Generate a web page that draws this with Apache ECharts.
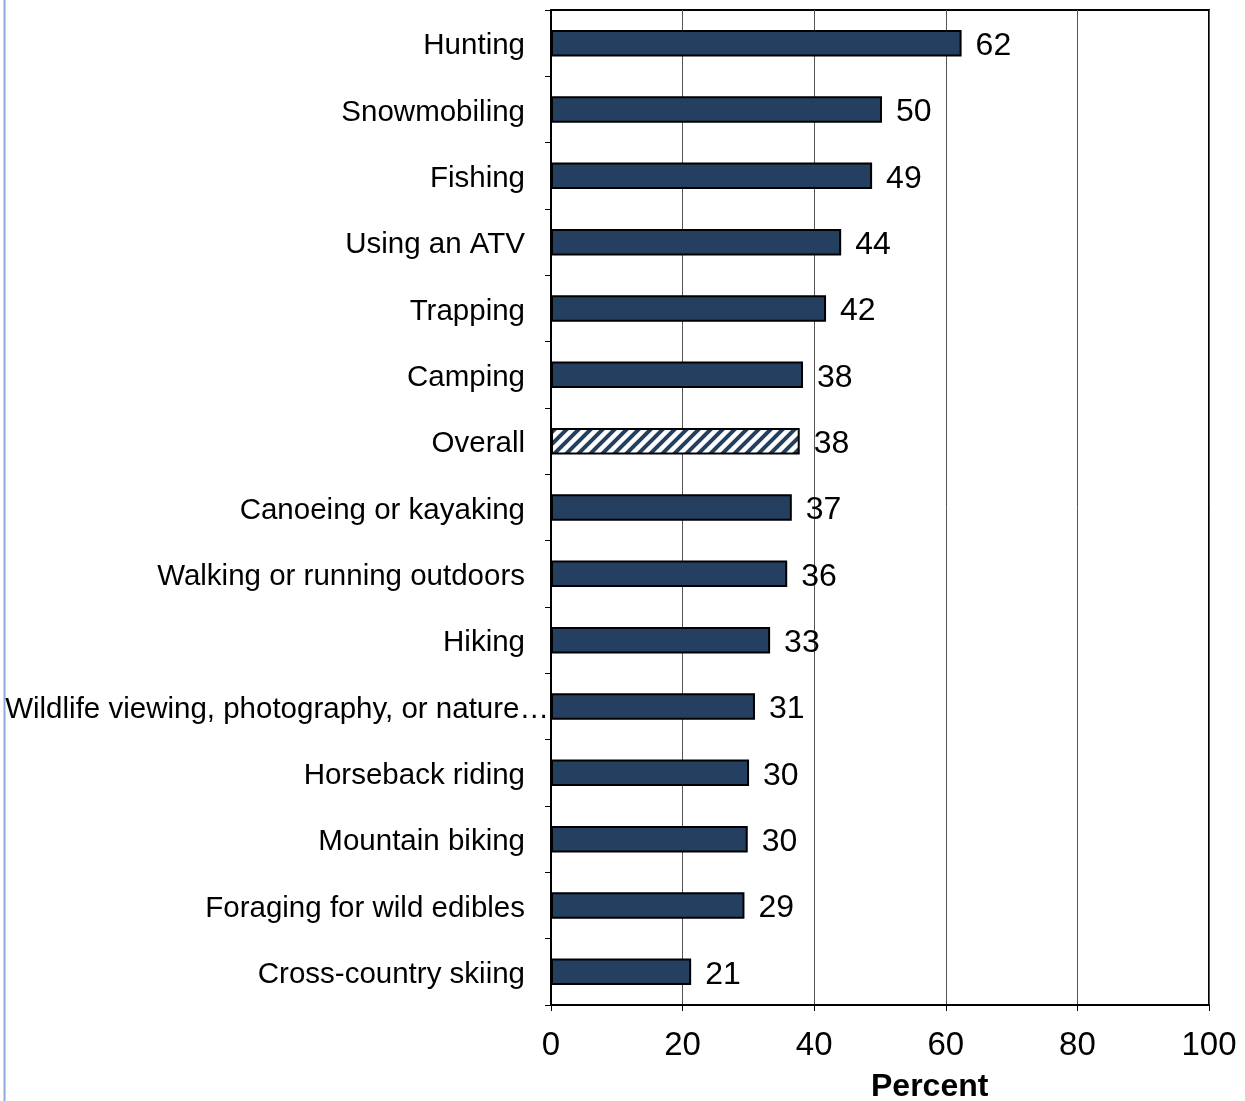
<!DOCTYPE html>
<html><head><meta charset="utf-8">
<script src="https://cdn.jsdelivr.net/npm/echarts@6/dist/echarts.min.js"></script>
<style>html,body{margin:0;padding:0;background:#fff}#c{width:1245px;height:1101px}</style>
</head><body><div id="c"></div>
<script>
const categories = ["Hunting","Snowmobiling","Fishing","Using an ATV","Trapping","Camping","Overall","Canoeing or kayaking","Walking or running outdoors","Hiking","Wildlife viewing, photography, or nature\u2026","Horseback riding","Mountain biking","Foraging for wild edibles","Cross-country skiing"];
const values = [62.4,50.3,48.8,44.1,41.8,38.3,37.8,36.6,35.9,33.3,31.0,30.1,29.9,29.4,21.3];
const hatchedCategory = "Overall";
const xTicks = [0,20,40,60,80,100];

const FONT = "'Liberation Sans', Arial, sans-serif";
const NAVY = "#243F60";

function hatch(){
  const c = document.createElement('canvas');
  c.width = 12; c.height = 12;
  const g = c.getContext('2d');
  g.fillStyle = '#fff'; g.fillRect(0,0,12,12);
  g.strokeStyle = NAVY; g.lineWidth = 4; g.lineCap='square';
  g.beginPath();
  g.moveTo(-6,6); g.lineTo(6,-6);
  g.moveTo(0,12); g.lineTo(12,0);
  g.moveTo(6,18); g.lineTo(18,6);
  g.stroke();
  return c;
}
const pattern = {image: hatch(), repeat: 'repeat'};

function catLabel(v){
  if (v.endsWith('\u2026')) {
    return '{a|' + v.slice(0,-1) + '}{b|\u2026}';
  }
  return '{a|' + v + '}';
}
const labelRich = {
  a:{color:'#000',fontSize:29.5,fontFamily:FONT,padding:[6,0,0,0]},
  b:{color:'#000',fontSize:29.5,fontFamily:FONT,padding:[6,-24,0,0]}
};

const chart = echarts.init(document.getElementById('c'), null, {renderer:'canvas'});
chart.setOption({
  animation:false,
  backgroundColor:'#fff',
  grid:{left:551,right:36,top:10,bottom:96,containLabel:false,outerBoundsMode:'none',show:true,borderColor:'#000',borderWidth:2,backgroundColor:'transparent'},
  graphic:[
    {type:'line',shape:{x1:4.5,y1:0,x2:4.5,y2:1101},style:{stroke:'#8EA9DB',lineWidth:2}},
    {type:'text',left:871,top:1071,style:{text:'Percent',font:"bold 32px "+FONT,fill:'#000'}}
  ],
  xAxis:{
    type:'value',min:xTicks[0],max:xTicks[xTicks.length-1],interval:20,
    axisLine:{show:true,lineStyle:{color:'#000',width:2}},
    axisTick:{show:true,length:6,lineStyle:{color:'#000',width:1}},
    splitLine:{show:true,lineStyle:{color:'#555',width:1}},
    axisLabel:{color:'#000',fontSize:33,fontFamily:FONT,margin:24}
  },
  yAxis:{
    type:'category',inverse:true,data:categories,
    axisLine:{show:true,lineStyle:{color:'#000',width:2}},
    axisTick:{show:true,length:6,lineStyle:{color:'#000',width:1}},
    axisLabel:{color:'#000',fontSize:29.5,fontFamily:FONT,margin:26,formatter:catLabel,rich:labelRich}
  },
  series:[{
    type:'bar',barWidth:'40%',
    data: values.map((v,i)=>({value:v,itemStyle:{color: categories[i]===hatchedCategory?pattern:NAVY}})),
    itemStyle:{borderColor:'#000',borderWidth:2},
    label:{show:true,position:'right',distance:14,offset:[0,3],color:'#000',fontSize:32,fontFamily:FONT,formatter:p=>Math.round(p.value)}
  }]
});
</script></body></html>
